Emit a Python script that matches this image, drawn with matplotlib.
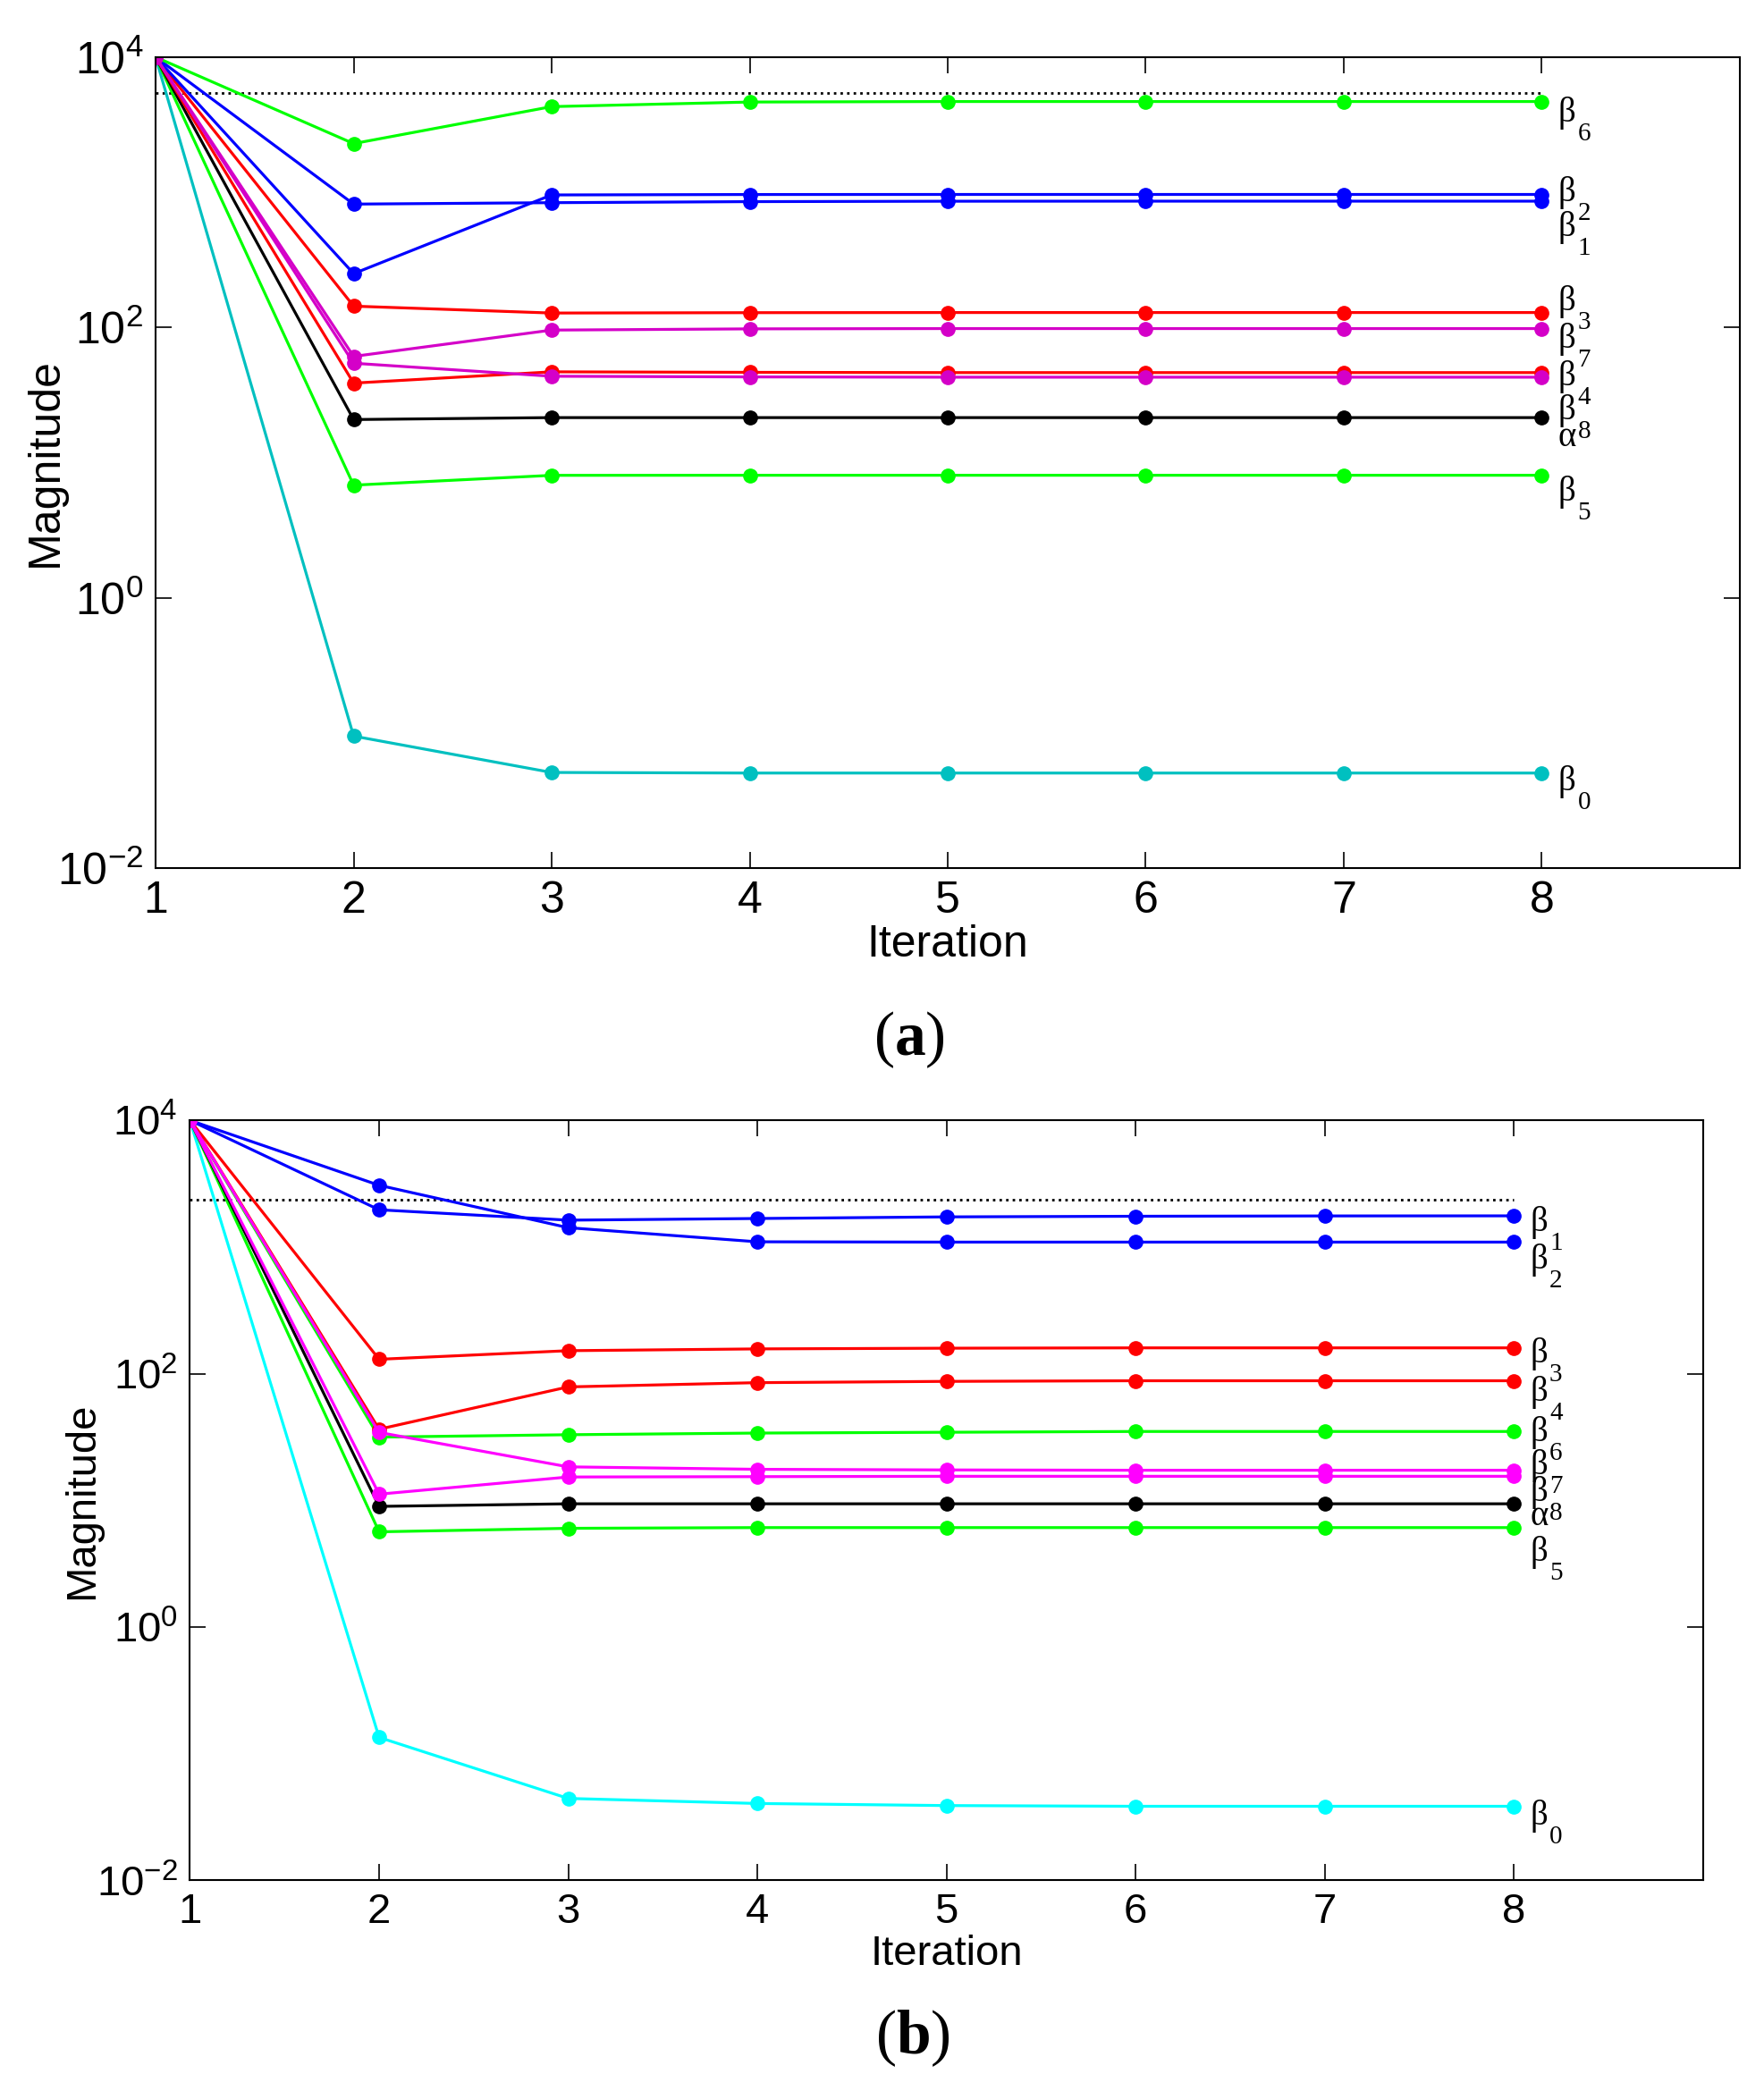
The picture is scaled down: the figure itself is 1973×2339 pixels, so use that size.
import matplotlib.pyplot as plt

plt.rcParams['font.family'] = 'Liberation Sans'
plt.rcParams['mathtext.fontset'] = 'custom'
plt.rcParams['mathtext.rm'] = 'Liberation Sans'
plt.rcParams['mathtext.it'] = 'Liberation Sans'
plt.rcParams['mathtext.bf'] = 'Liberation Serif:bold'

iters = [1, 2, 3, 4, 5, 6, 7, 8]

# ---- panel (a) values ----
limit_a = 5430
a_beta0 = [1e4, 0.0946, 0.0509, 0.0504, 0.0504, 0.0504, 0.0504, 0.0504]
a_beta1 = [1e4, 817, 837, 852, 858, 859, 859, 859]
a_beta2 = [1e4, 250, 955, 962, 963, 963, 963, 963]
a_beta3 = [1e4, 143.6, 127.7, 128.5, 128.8, 128.8, 128.8, 128.8]
a_beta4 = [1e4, 38.7, 46.9, 46.5, 46.3, 46.3, 46.3, 46.3]
a_beta5 = [1e4, 6.8, 8.04, 8.05, 8.05, 8.05, 8.05, 8.05]
a_beta6 = [1e4, 2290, 4300, 4650, 4690, 4690, 4690, 4690]
a_beta7 = [1e4, 61, 95.5, 97.5, 98, 98, 98, 98]
a_beta8 = [1e4, 54.3, 43.5, 43.0, 42.8, 42.8, 42.8, 42.8]
a_alpha = [1e4, 20.8, 21.5, 21.5, 21.5, 21.5, 21.5, 21.5]

# ---- panel (b) values ----
limit_b = 2360
b_beta0 = [1e4, 0.1346, 0.0444, 0.0405, 0.039, 0.0385, 0.0385, 0.0385]
b_beta1 = [1e4, 1968, 1630, 1680, 1730, 1750, 1760, 1763]
b_beta2 = [1e4, 3073, 1422, 1100, 1094, 1094, 1094, 1094]
b_beta3 = [1e4, 130, 152, 157, 159, 160, 160, 160]
b_beta4 = [1e4, 36.5, 78.7, 85, 87, 88, 88, 88]
b_beta5 = [1e4, 5.65, 6.02, 6.1, 6.1, 6.1, 6.1, 6.1]
b_beta6 = [1e4, 31.6, 33, 34, 34.5, 35, 35, 35]
b_beta7 = [1e4, 34.4, 18.4, 17.6, 17.4, 17.3, 17.3, 17.3]
b_beta8 = [1e4, 11.2, 15.3, 15.4, 15.5, 15.5, 15.5, 15.5]
b_alpha = [1e4, 8.97, 9.4, 9.4, 9.4, 9.4, 9.4, 9.4]

# (symbol, subscript, values, colour, label baseline drop in px)
series_a = [
    ('β', '0', a_beta0, '#00c0c0', 19),
    ('β', '5', a_beta5, '#00ff00', 28),
    ('α', '', a_alpha, 'black', 32),
    ('β', '4', a_beta4, 'red', 14),
    ('β', '3', a_beta3, 'red', -3),
    ('β', '1', a_beta1, 'blue', 39),
    ('β', '2', a_beta2, 'blue', 7),
    ('β', '6', a_beta6, '#00ff00', 22),
    ('β', '8', a_beta8, '#d400c8', 47),
    ('β', '7', a_beta7, '#d400c8', 21),
]
series_b = [
    ('β', '0', b_beta0, '#00ffff', 20),
    ('β', '5', b_beta5, '#00ff00', 37),
    ('α', '', b_alpha, 'black', 24),
    ('β', '6', b_beta6, '#00ff00', 11),
    ('β', '4', b_beta4, 'red', 22),
    ('β', '3', b_beta3, 'red', 16),
    ('β', '2', b_beta2, 'blue', 30),
    ('β', '1', b_beta1, 'blue', 17),
    ('β', '8', b_beta8, '#ff00ff', 28),
    ('β', '7', b_beta7, '#ff00ff', 4),
]


def draw_panel(ax, series, limit, fs, ylpad):
    ax.plot([iters[0], iters[-1]], [limit, limit], ':', color='black', lw=2)
    for sym, sub, vals, col, drop in series:
        ax.plot(iters, vals, '-o', color=col, lw=2.3, ms=11, mec=col, mfc=col)
        ax.annotate(sym, xy=(iters[-1], vals[-1]), xytext=(18, -drop),
                    textcoords='offset pixels', ha='left', va='baseline',
                    family='Liberation Serif', fontsize=28)
        if sub:
            ax.annotate(sub, xy=(iters[-1], vals[-1]), xytext=(40, -drop - 21),
                        textcoords='offset pixels', ha='left', va='baseline',
                        family='Liberation Serif', fontsize=21)
    ax.set_yscale('log')
    ax.set_xlim(1, 9)
    ax.set_ylim(1e-2, 1e4)
    ax.set_xticks(iters)
    ax.set_xticklabels([str(i) for i in iters])
    ax.set_yticks([1e-2, 1e0, 1e2, 1e4])
    ax.set_yticklabels(['$10^{-2}$', '$10^{0}$', '$10^{2}$', '$10^{4}$'])
    ax.minorticks_off()
    ax.tick_params(direction='in', top=True, right=True, length=13, width=1.2,
                   labelsize=fs, pad=10)
    for s in ax.spines.values():
        s.set_linewidth(1.5)
    ax.set_xlabel('Iteration', fontsize=fs, labelpad=2)
    ax.set_ylabel('Magnitude', fontsize=fs, labelpad=ylpad)


fig = plt.figure(figsize=(19.73, 23.39), dpi=100)
ax1 = fig.add_axes([0.0882, 0.5849, 0.8981, 0.3878])
ax2 = fig.add_axes([0.1077, 0.1007, 0.8576, 0.3635])
draw_panel(ax1, series_a, limit_a, 36, -7)
draw_panel(ax2, series_b, limit_b, 34, -5)

fig.text(0.5155, 1 - 1163 / 2339, r'($\mathbf{a}$)', ha='center', va='center',
         family='Liberation Serif', fontsize=50)
fig.text(0.5175, 1 - 2280 / 2339, r'($\mathbf{b}$)', ha='center', va='center',
         family='Liberation Serif', fontsize=50)

fig.savefig('out.png', dpi=100)
